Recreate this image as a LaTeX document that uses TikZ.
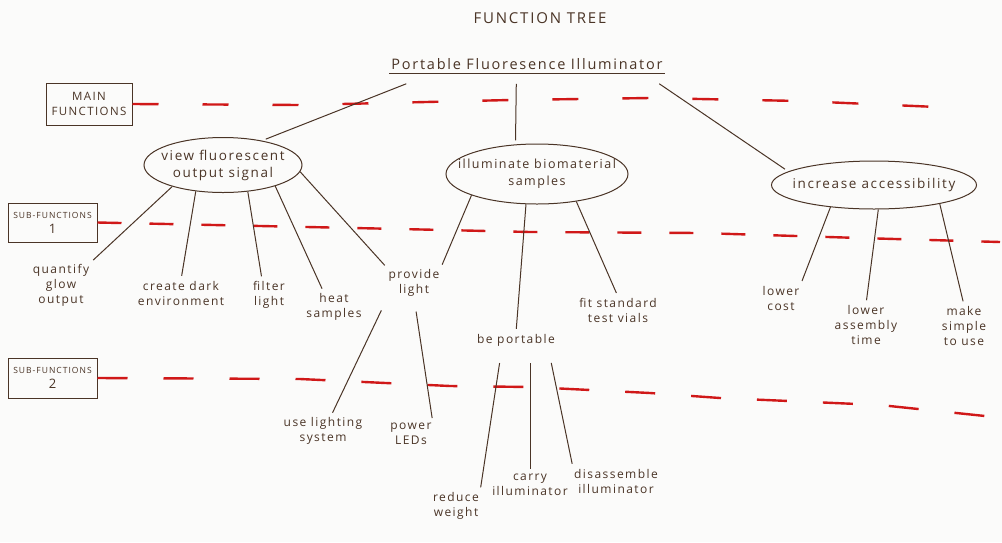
\documentclass[tikz,border=0pt]{standalone}
\usepackage{fontspec}
\setmainfont[LetterSpace=12]{Open Sans}
\usetikzlibrary{shapes.geometric,calc}
\definecolor{ink}{HTML}{4A3426}
\definecolor{redink}{HTML}{D01818}
\definecolor{paper}{HTML}{FBFBFA}
\tikzset{
  leaf/.style={text=ink, align=center, font=\fontsize{12}{15}\selectfont, inner sep=1pt},
  fn/.style={ellipse, draw=ink, line width=1pt, text=ink, align=center,
             font=\fontsize{13.5}{17}\selectfont, inner xsep=-24pt, inner ysep=-5pt},
  conn/.style={draw=ink, line width=1pt, shorten >=4pt},
  levelbox/.style={draw=ink, line width=1pt, text=ink, align=center, inner sep=0pt},
  guide/.style={draw=redink, line width=2.4pt}
}
\begin{document}
\begin{tikzpicture}[x=1pt,y=-1pt]
\fill[paper] (0,0) rectangle (1002,542);
\useasboundingbox (0,0) rectangle (1002,542);

% title and root
\node[text=ink, font=\fontsize{15}{17}\selectfont] (title) at (540,18) {FUNCTION TREE};
\node[text=ink, font=\fontsize{14.5}{17}\selectfont, inner xsep=2pt, inner ysep=4pt] (root) at (527,64) {Portable Fluoresence Illuminator};
\draw[ink, line width=1pt] (root.south west) -- (root.south east);

% level boxes
\node[levelbox, minimum width=86, minimum height=42, font=\fontsize{11.5}{15}\selectfont] (main) at (89,104) {MAIN\\FUNCTIONS};
\node[levelbox, minimum width=89, minimum height=39, font=\fontsize{8.5}{15}\selectfont] (sub1) at (52.5,222.5) {SUB-FUNCTIONS\\{\fontsize{13}{15}\selectfont 1}};
\node[levelbox, minimum width=89, minimum height=40, font=\fontsize{8.5}{15}\selectfont] (sub2) at (52.5,378) {SUB-FUNCTIONS\\{\fontsize{13}{15}\selectfont 2}};

% red guide lines
\draw[guide, dash pattern=on 26pt off 44pt] (main.east) -- (300,105) -- (510,100) -- (650,98) -- (800,101) -- (960,108);
\draw[guide, dash pattern=on 24pt off 28pt] (sub1.east) -- (400,229) -- (530,232) -- (700,233) -- (860,238) -- (1000,242);
\draw[guide, dash pattern=on 30pt off 36pt] (sub2.east) -- (300,379) -- (450,386) -- (530,387) -- (650,393) -- (720,398) -- (880,405) -- (985,416);

% main functions
\node[fn, minimum width=158, minimum height=55] (e1) at (223,165) {view fluorescent\\output signal};
\node[fn, minimum width=182, minimum height=60, font=\fontsize{12.5}{17}\selectfont] (e2) at (537,174) {illuminate biomaterial\\samples};
\node[fn, minimum width=205, minimum height=48] (e3) at (874,185) {increase accessibility};

\draw[conn] ($(root.south west)+(17,10)$) -- (e1.32);
\draw[conn] ($(root.south west)+(127,10)$) -- (e2.126);
\draw[conn] ($(root.south west)+(270,10)$) -- (e3.171);

% sub-functions 1
\node[leaf] (quant) at (61,285) {quantify\\glow\\output};
\node[leaf] (dark) at (181,293) {create dark\\environment};
\node[leaf] (filter) at (269,295) {filter\\light};
\node[leaf] (heat) at (334,307) {heat\\samples};
\node[leaf] (provide) at (414,283) {provide\\light};
\node[leaf] (fit) at (618,310) {fit standard\\test vials};
\node[leaf] (port) at (516,340) {be portable};
\node[leaf] (cost) at (781,298) {lower\\cost};
\node[leaf] (assem) at (866,325) {lower\\assembly\\time};
\node[leaf] (make) at (964,326) {make\\simple\\to use};

\draw[conn] (e1.203) -- (quant.north east);
\draw[conn] (e1.224) -- (dark.north);
\draw[conn] (e1.313) -- (filter.115);
\draw[conn] (e1.338) -- (heat.125);
\draw[conn] (e1.355) -- (provide.north west);
\draw[conn] (e2.198) -- (provide.north east);
\draw[conn] (e2.250) -- (port.north);
\draw[conn] (e2.325) -- (fit.north);
\draw[conn] (e3.207) -- (cost.north east);
\draw[conn] (e3.280) -- (assem.north);
\draw[conn] (e3.344) -- (make.north);

% sub-functions 2
\node[leaf] (uselight) at (323,431) {use lighting\\system};
\node[leaf] (power) at (411,434) {power\\LEDs};
\node[leaf] (reduce) at (456,506) {reduce\\weight};
\node[leaf] (carry) at (530,485) {carry\\illuminator};
\node[leaf] (disas) at (616,481) {disassemble\\illuminator};

\draw[conn, shorten <=14pt] (provide.south west) -- (uselight.62);
\draw[conn, shorten <=14pt] (provide.south) -- (power.north east);
\draw[conn, shorten <=16pt] (port.south) ++(-14,0) coordinate (pa) (pa) -- (reduce.north east);
\draw[conn, shorten <=16pt] (port.south) ++(14,0) coordinate (pb) (pb) -- (carry.north);
\draw[conn, shorten <=16pt] (port.south) ++(32,0) coordinate (pc) (pc) -- (disas.north west);
\end{tikzpicture}
\end{document}
